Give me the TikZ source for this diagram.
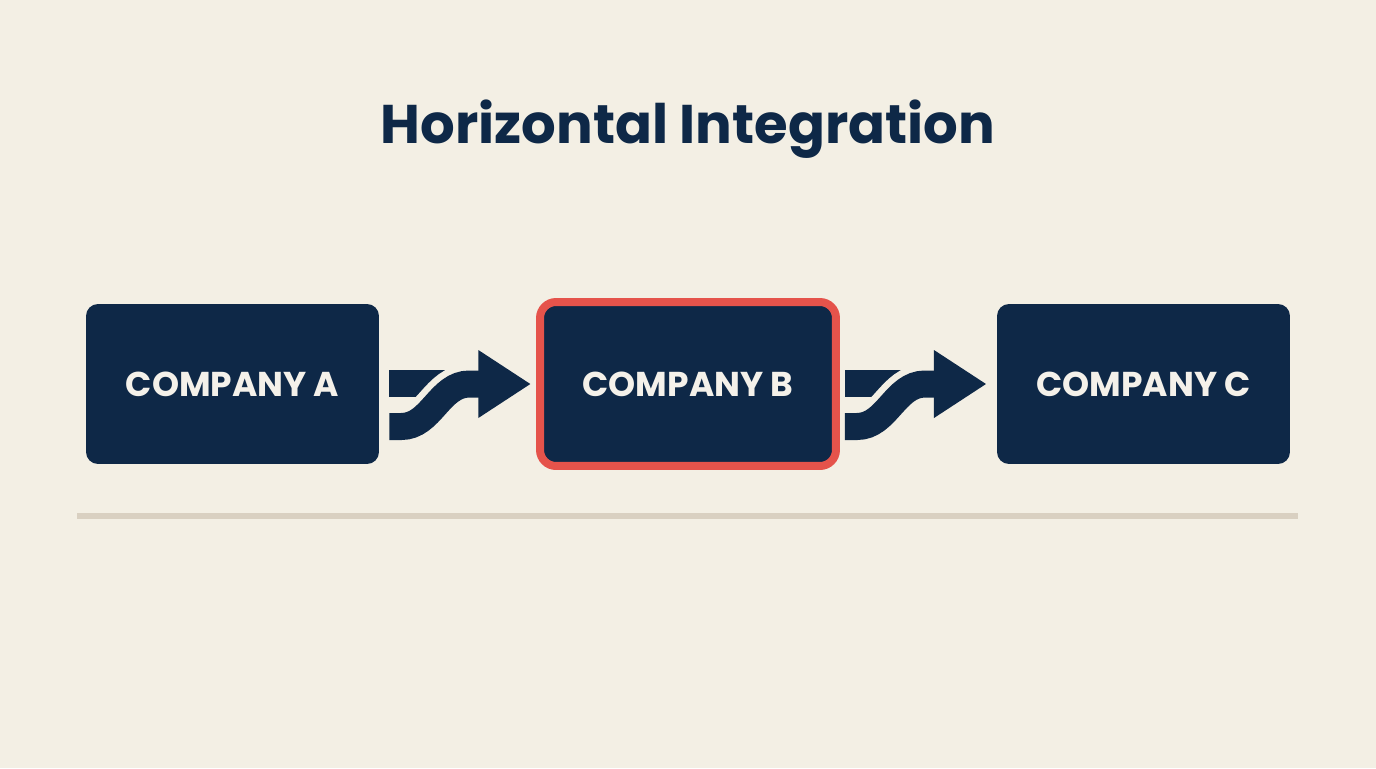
\documentclass[tikz,border=0pt]{standalone}
\usepackage{fontspec}
\setmainfont{Poppins}
\usetikzlibrary{calc}

\definecolor{bgcream}{HTML}{F3EFE4}
\definecolor{navy}{HTML}{0E2847}
\definecolor{coral}{HTML}{E5534B}
\definecolor{rulegray}{HTML}{D9D0C1}
\definecolor{labelwhite}{HTML}{F4F1EA}

\tikzset{
  company/.style={fill=navy, rounded corners=0.24cm, minimum width=5.86cm,
    minimum height=3.2cm, inner sep=0pt, text=labelwhite,
    font=\bfseries\fontsize{19.6}{24}\selectfont},
  picked/.style={company, draw=coral, line width=0.16cm, rounded corners=0.32cm,
    minimum width=5.92cm, minimum height=3.28cm},
  mergearrow/.pic={
    % upper bar
    \fill[navy] (0,-14) rectangle (56,13);
    % gap cut along the bend
    \draw[bgcream, line width=0.8cm] (0,42.5) -- (12,42.5)
      .. controls (42,42.5) and (50,0) .. (80,0) -- (90,0);
    % lower bar bending up
    \draw[navy, line width=0.54cm] (0,42.5) -- (12,42.5)
      .. controls (42,42.5) and (50,0) .. (80,0) -- (90,0);
    % head
    \fill[navy] (89,-34) -- (141,0) -- (89,34) -- cycle;
  }
}

\begin{document}
\begin{tikzpicture}[x=0.02cm, y=-0.02cm]
        % Background
        \fill[bgcream] (0,0) rectangle (1376,768);
        \useasboundingbox (0,0) rectangle (1376,768);

        % Title
        \node[anchor=base, text=navy, font=\bfseries\fontsize{31}{38}\selectfont] (title) at (688,143) {Horizontal Integration};

        % Companies
        \node[company] (A) at (232.5,384) {COMPANY A};
        \node[picked] (B) at (688,384) {COMPANY B};
        \node[company] (C) at (1143.5,384) {COMPANY C};

        % Arrows
        \pic at ($(A.east)+(10,0)$) {mergearrow};
        \pic at ($(B.east)+(5,0)$) {mergearrow};

        % Divider
        \draw[rulegray, line width=0.12cm] (77,516) coordinate (rulel) -- (1298,516) coordinate (ruler);
\end{tikzpicture}
\end{document}
